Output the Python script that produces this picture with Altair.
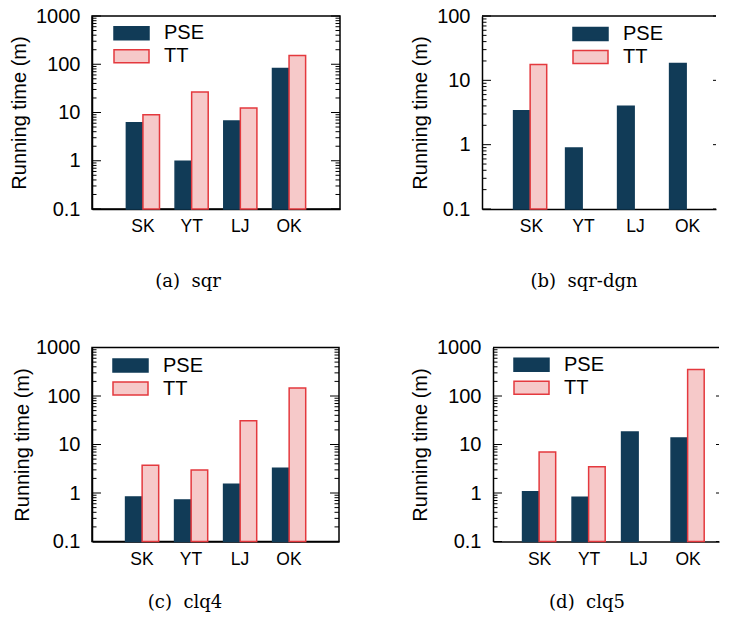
import altair as alt
import pandas as pd

datasets = ["SK", "YT", "LJ", "OK"]
series_names = ["PSE", "TT"]

sqr_pse = [6.15, 0.98, 6.7, 82.0]
sqr_tt = [9.0, 26.5, 12.4, 152.0]
sqrdgn_pse = [3.37, 0.89, 3.97, 18.2]
sqrdgn_tt = [17.6, None, None, None]
clq4_pse = [0.83, 0.72, 1.51, 3.23]
clq4_tt = [3.73, 2.99, 30.9, 147.0]
clq5_pse = [1.06, 0.82, 18.1, 13.6]
clq5_tt = [7.0, 3.48, None, 351.0]

captions = ["(a)\u00a0\u00a0sqr", "(b)\u00a0\u00a0sqr-dgn", "(c)\u00a0\u00a0clq4", "(d)\u00a0\u00a0clq5"]
y_title = "Running time (m)"
major_ticks = [0.1, 1, 10, 100, 1000]
minor_ticks = [0.2, 0.3, 0.4, 0.5, 0.6, 0.7, 0.8, 0.9,
               2, 3, 4, 5, 6, 7, 8, 9,
               20, 30, 40, 50, 60, 70, 80, 90,
               200, 300, 400, 500, 600, 700, 800, 900]

NAVY = "#113b57"
RED = "#e4393e"
PINK = "#f6c9c9"
SANS = "Liberation Sans"
SERIF = "DejaVu Serif"


def panel(pse, tt, caption, ymax, width, height, pin, pout, xalign,
          lx, ly, title_pad, framed, cap_dx, cap_off):
    rows = []
    for d, p, t in zip(datasets, pse, tt):
        if p is not None:
            rows.append({"dataset": d, "series": "PSE", "value": p})
        if t is not None:
            rows.append({"dataset": d, "series": "TT", "value": t})
    df = pd.DataFrame(rows)
    ysc = alt.Scale(type="log", domain=[0.1, ymax])
    xsc = alt.Scale(domain=datasets, paddingInner=pin, paddingOuter=pout,
                    align=xalign)
    leg = alt.Legend(orient="none", legendX=lx, legendY=ly, title=None,
                     labelFont=SANS, labelFontSize=20, labelColor="black",
                     symbolType="M-2.5,-0.93H2.5V0.93H-2.5Z", symbolSize=196,
                     symbolStrokeWidth=1.5, labelOffset=22.5, rowPadding=3,
                     padding=0, symbolOpacity=1)
    majors = [t for t in major_ticks if t <= ymax]
    yaxis = alt.Axis(title=y_title, values=majors, format="~g",
                     ticks=False, tickSize=0, grid=False,
                     domain=True, domainColor="black", domainWidth=1.5,
                     labelFont=SANS, labelFontSize=20,
                     labelColor="black", labelPadding=12,
                     titleFont=SANS, titleFontSize=20,
                     titleFontWeight="normal", titleColor="black",
                     titlePadding=title_pad)
    bars = alt.Chart(df).mark_bar(strokeWidth=1.5, opacity=1).encode(
        x=alt.X("dataset:N", scale=xsc, sort=datasets,
                axis=alt.Axis(title=None, labelAngle=0, ticks=False, tickSize=0,
                              domain=True, domainColor="black", domainWidth=1.5,
                              labelFont=SANS, labelFontSize=17.5,
                              labelColor="black", labelPadding=8.5)),
        xOffset=alt.XOffset("series:N",
                            scale=alt.Scale(domain=series_names,
                                            paddingInner=0, paddingOuter=0)),
        y=alt.Y("value:Q", scale=ysc, axis=yaxis),
        y2=alt.datum(0.1),
        color=alt.Color("series:N",
                        scale=alt.Scale(domain=series_names, range=[NAVY, PINK]),
                        legend=leg),
        stroke=alt.Stroke("series:N",
                          scale=alt.Scale(domain=series_names, range=[NAVY, RED]),
                          legend=leg),
    )
    maj = pd.DataFrame({"tick": majors})
    mnr = pd.DataFrame({"tick": [t for t in minor_ticks if t < ymax]})

    def rules(d, x0, x1, sw=1):
        return alt.Chart(d).mark_rule(color="black", strokeWidth=sw).encode(
            y=alt.Y("tick:Q", scale=ysc, axis=yaxis),
            x=alt.value(x0), x2=alt.value(x1))

    layers = [bars, rules(maj, 0, 9), rules(mnr, 0, 4.5)]
    if framed:
        layers += [rules(maj, width - 9, width), rules(mnr, width - 4.5, width)]
    else:
        top = pd.DataFrame({"tick": [ymax]})
        layers += [rules(maj, width - 3, width), rules(top, 0, width, 1.5)]
    return alt.layer(*layers).properties(
        width=width, height=height,
        title=alt.TitleParams(text=caption, orient="bottom", font=SERIF,
                              fontSize=18, fontWeight="normal", color="black",
                              anchor="middle", frame="group", offset=cap_off,
                              dx=cap_dx),
        view=alt.ViewBackground(stroke="black" if framed else "transparent",
                                strokeWidth=1.5),
    )


pa = panel(sqr_pse, sqr_tt, captions[0], 1000, 248, 193, 0.32, 0.706, 0.5,
           29.5, 7.3, 6.5, True, -28, 38)
pb = panel(sqrdgn_pse, sqrdgn_tt, captions[1], 100, 234, 193, 0.31, 0.405, 0.75,
           98.5, 8, 6.5, False, -15, 38)
pc = panel(clq4_pse, clq4_tt, captions[2], 1000, 247, 194, 0.33, 0.685, 0.5,
           28.5, 8, 3.5, True, -30.5, 26)
pdd = panel(clq5_pse, clq5_tt, captions[3], 1000, 226, 194, 0.313, 0.439, 0.68,
            28.5, 7.3, 6.5, False, -19, 26)

row1 = alt.hconcat(pa, pb, spacing=67).resolve_scale(
    color="independent", stroke="independent").resolve_legend(
    color="independent", stroke="independent")
row2 = alt.hconcat(pc, pdd, spacing=68).resolve_scale(
    color="independent", stroke="independent").resolve_legend(
    color="independent", stroke="independent")

chart = alt.vconcat(row1, row2, spacing=44.5).resolve_scale(
    color="independent", stroke="independent").resolve_legend(
    color="independent", stroke="independent").properties(
    padding={"left": 0, "top": -3, "right": 0, "bottom": 0},
    background="white")

chart.save("out.html", embed_options={"renderer": "svg", "actions": False})
